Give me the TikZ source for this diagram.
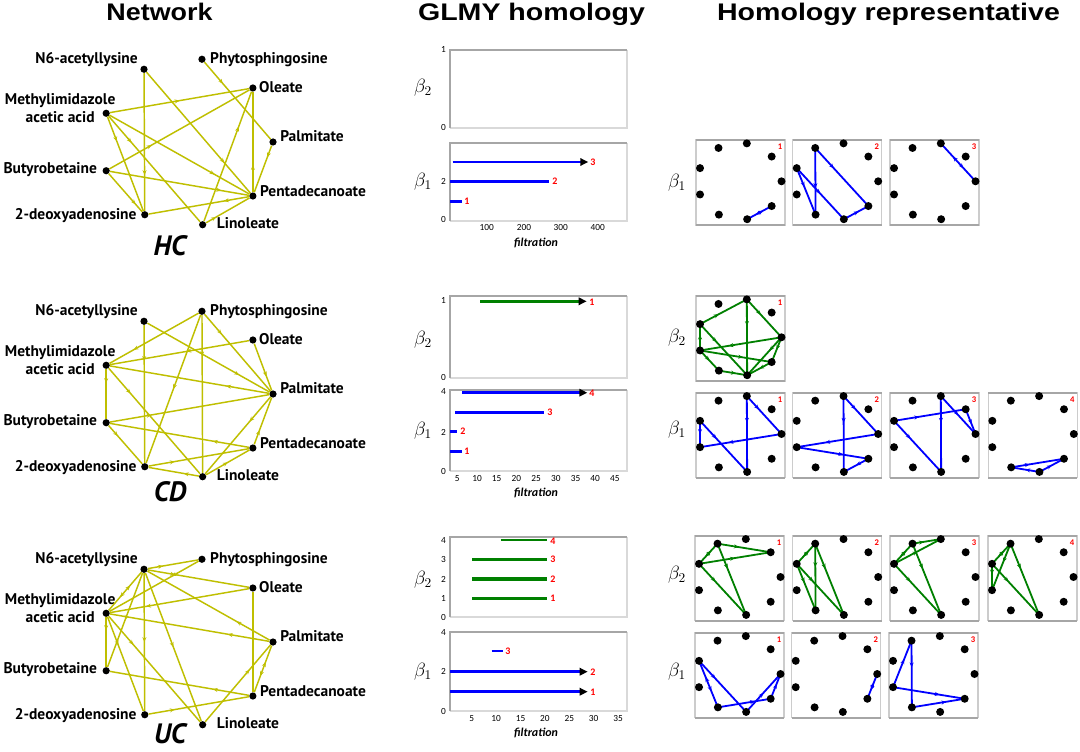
\documentclass[tikz,border=0pt]{standalone}
\usepackage{fontspec}
\newfontfamily\labfont{PT Sans}
\newfontfamily\ttlfont{Liberation Sans}
\newfontfamily\tkfont{Carlito}
\usetikzlibrary{arrows.meta,decorations.markings,calc}
\pgfdeclarelayer{bg}
\pgfdeclarelayer{edges}
\pgfsetlayers{bg,edges,main}
\definecolor{netc}{RGB}{191,191,0}
\definecolor{hgreen}{RGB}{0,128,0}
\definecolor{hblue}{RGB}{0,0,255}
\definecolor{hred}{RGB}{255,0,0}
\tikzset{
 dot/.style={circle,fill=black,inner sep=0pt,minimum size=5.4pt},
 bdot/.style={circle,fill=black,inner sep=0pt,minimum size=6pt},
 lab/.style={font=\labfont\bfseries\fontsize{11.6}{13}\selectfont,inner sep=0pt,text height=8.1pt,text depth=0pt},
 labm/.style={font=\labfont\bfseries\fontsize{11.6}{13.5}\selectfont,inner sep=0pt,align=center},
 ntitle/.style={font=\labfont\bfseries\itshape\fontsize{21}{24}\selectfont,inner sep=0pt},
 ctitle/.style={font=\ttlfont\bfseries\fontsize{18}{20}\selectfont,inner sep=0pt,anchor=base},
 ma/.style={postaction={decorate},decoration={markings,mark=at position #1 with {\arrow{Stealth[length=3.6pt,width=3pt]}}}},
 ma/.default=0.5,
 mab/.style={postaction={decorate},decoration={markings,mark=at position 0.35 with {\arrowreversed{Stealth[length=3.6pt,width=3pt]}},mark=at position 0.65 with {\arrow{Stealth[length=3.6pt,width=3pt]}}}},
 nedge/.style={netc,line width=1.1pt},
 gedge/.style={hgreen,line width=1.35pt},
 bedge/.style={hblue,line width=1.35pt},
 beta/.style={font=\fontsize{14}{16}\selectfont,inner sep=0pt},
 tk/.style={font=\tkfont\fontsize{7}{8}\selectfont,inner sep=0pt},
 filt/.style={font=\tkfont\bfseries\itshape\fontsize{9}{10}\selectfont,inner sep=0pt},
 num/.style={font=\tkfont\bfseries\fontsize{7.5}{8}\selectfont,text=hred,inner sep=0pt,anchor=west},
 bnum/.style={font=\tkfont\bfseries\fontsize{6.5}{7}\selectfont,text=hred,inner sep=0pt},
 bbar/.style={hblue,line width=2.2pt},
 gbar/.style={hgreen,line width=2.2pt},
 tip/.style={-{Triangle[black,length=6pt,width=5.5pt]}},
 spdark/.style={gray!70,line width=1.1pt},
 splight/.style={gray!30,line width=1pt}
}
% the nine positions of the nonagon: name / cos / sin
\def\ninelist{P0/1/0,Ol/0.766/0.643,Ph/0.174/0.985,N6/-0.5/0.866,Me/-0.94/0.342,Bu/-0.94/-0.342,De/-0.491/-0.866,Li/0.182/-0.985,Pe/0.766/-0.643}
\newcommand\BE[3]{\draw[#1] (#2.center) -- (#3.center);}
\newcommand\netw[4]{%
 \foreach \n/\c/\s in \ninelist
   \node[dot] (#1\n) at ({187+86*\c},{#2-84*\s}) {};
 \node[lab,anchor=east] (#1tN6) at ($(#1N6)+(-6,-11)$) {N6-acetyllysine};
 \node[lab,anchor=west] (#1tPh) at ($(#1Ph)+(8,-1)$) {Phytosphingosine};
 \node[lab,anchor=west] (#1tOl) at ($(#1Ol)+(6,-1)$) {Oleate};
 \node[labm] (#1tMe) at ($(#1Me)+(-46,-5)$) {Methylimidazole\\acetic acid};
 \node[lab,anchor=west] (#1tP0) at ($(#1P0)+(7,-6)$) {Palmitate};
 \node[lab,anchor=east] (#1tBu) at ($(#1Bu)+(-9,-3)$) {Butyrobetaine};
 \node[lab,anchor=west] (#1tPe) at ($(#1Pe)+(7,-5)$) {Pentadecanoate};
 \node[lab,anchor=east] (#1tDe) at ($(#1De)+(-8,-1)$) {2-deoxyadenosine};
 \node[lab,anchor=west] (#1tLi) at ($(#1Li)+(14,-2)$) {Linoleate};
 \node[ntitle] (#1tt) at (170,#4) {#3};
}
\newcommand\rbox[4]{%
 \begin{pgfonlayer}{bg}
 \draw[gray!40,line width=1pt] (#2,#3) rectangle ++(89,85);
 \draw[gray!70,line width=1.3pt] (#2,#3) -- ++(89,0) (#2,#3+85) -- ++(89,0);
 \end{pgfonlayer}
 \foreach \n/\c/\s in \ninelist
   \node[bdot] (#1\n) at ({#2+43.5+42*\c},{#3+41.3-38.5*\s}) {};
 \node[bnum] (#1num) at (#2+84,#3+7) {#4};
}
\newcommand\panel[5]{%
 \draw[splight] (#2,#5) -- (#4,#5) -- (#4,#3);
 \draw[spdark] (#2,#5) -- (#2,#3) -- (#4,#3);
}
\begin{document}
\begin{tikzpicture}[x=0.75pt,y=-0.75pt]
\useasboundingbox (0,0) rectangle (1080,752);
\begin{pgfonlayer}{bg}
\fill[white] (0,0) rectangle (1080,752);
\end{pgfonlayer}
% titles
\node[ctitle,xscale=1.12] (T1) at (159.5,21) {Network};
\node[ctitle,xscale=1.19] (T2) at (531.5,21) {GLMY homology};
\node[ctitle,xscale=1.19] (T3) at (888.5,21) {Homology representative};

% ---------- networks ----------
\netw{h}{142}{HC}{246}
\netw{c}{394}{CD}{492}
\netw{u}{642}{UC}{734}

% HC edges
\draw[nedge,ma=0.28] (hPh) -- (hP0);
\draw[nedge,ma=0.74] (hN6) -- (hDe);
\draw[nedge,ma=0.75] (hN6) -- (hPe);
\draw[nedge,ma=0.5] (hMe) -- (hOl);
\draw[nedge,ma=0.26] (hMe) -- (hDe);
\draw[nedge,ma=0.25] (hMe) -- (hLi);
\draw[nedge,ma=0.75] (hMe) -- (hPe);
\draw[nedge,ma=0.3] (hBu) -- (hOl);
\draw[nedge,ma=0.8] (hBu) -- (hPe);
\draw[nedge,ma=0.8] (hBu) -- (hDe);
\draw[nedge,ma=0.27] (hPe) -- (hOl);
\draw[nedge,ma=0.73] (hLi) -- (hOl);
\draw[nedge,ma=0.25] (hP0) -- (hPe);
\draw[nedge,ma=0.25] (hPe) -- (hDe);
\draw[nedge,ma=0.23] (hLi) -- (hPe);

% CD edges
\draw[nedge,ma=0.26] (cN6) -- (cDe);
\draw[nedge,ma=0.75] (cN6) -- (cP0);
\draw[nedge,ma=0.73] (cPh) -- (cMe);
\draw[nedge,ma=0.5] (cPh) -- (cDe);
\draw[nedge,ma=0.26] (cPh) -- (cLi);
\draw[nedge,ma=0.26] (cPh) -- (cP0);
\draw[nedge,ma=0.45] (cOl) -- (cMe);
\draw[nedge,ma=0.7] (cOl) -- (cP0);
\draw[nedge,ma=0.27] (cP0) -- (cMe);
\draw[nedge,ma=0.28] (cMe) -- (cBu);
\draw[nedge,ma=0.24] (cMe) -- (cLi);
\draw[nedge,ma=0.26] (cBu) -- (cP0);
\draw[nedge,ma=0.26] (cPe) -- (cBu);
\draw[nedge,ma=0.27] (cBu) -- (cDe);
\draw[nedge,ma=0.32] (cP0) -- (cLi);
\draw[nedge,ma=0.3] (cPe) -- (cP0);
\draw[nedge,ma=0.26] (cDe) -- (cPe);
\draw[nedge,ma=0.3] (cLi) -- (cDe);
\draw[nedge,ma=0.5] (cLi) -- (cPe);

% UC edges
\draw[nedge,ma=0.3] (uN6) -- (uPh);
\draw[nedge,ma=0.3] (uPh) -- (uMe);
\draw[nedge,ma=0.27] (uN6) -- (uOl);
\draw[nedge,mab] (uN6) -- (uMe);
\draw[nedge,ma=0.5] (uN6) -- (uBu);
\draw[nedge,ma=0.5] (uN6) -- (uDe);
\draw[nedge,ma=0.5] (uN6) -- (uLi);
\draw[nedge,ma=0.27] (uP0) -- (uN6);
\draw[nedge,ma=0.74] (uOl) -- (uMe);
\draw[nedge,ma=0.26] (uP0) -- (uMe);
\draw[nedge,ma=0.26] (uMe) -- (uBu);
\draw[nedge,ma=0.3] (uMe) -- (uDe);
\draw[nedge,ma=0.27] (uMe) -- (uLi);
\draw[nedge,ma=0.26] (uPe) -- (uBu);
\draw[nedge] (uOl) -- (uPe);
\draw[nedge,mab] (uP0) -- (uPe);
\draw[nedge,ma=0.68] (uLi) -- (uP0);
\draw[nedge,ma=0.26] (uDe) -- (uPe);

% ---------- GLMY panels ----------
\node[beta] (hb2) at (423,88) {$\beta_2$};
\node[beta] (hb1) at (423,182) {$\beta_1$};
\node[beta] (cb2) at (423,340) {$\beta_2$};
\node[beta] (cb1) at (423,431) {$\beta_1$};
\node[beta] (ub2) at (423,580) {$\beta_2$};
\node[beta] (ub1) at (423,672) {$\beta_1$};

% HC
\panel{p1}{450}{50}{627}{128}
\panel{p2}{450}{143}{627}{221}
\node[tk,anchor=east] (y11) at (446,50) {1};
\node[tk,anchor=east] (y10) at (446,128) {0};
\node[tk,anchor=east] (y22) at (446,181) {2};
\node[tk,anchor=east] (y20) at (446,220) {0};
\foreach \v/\x in {100/486.7,200/524,300/560.7,400/597.7}
  \node[tk] (hx\v) at (\x,228) {\v};
\node[filt] (hf) at (536,243) {filtration};
\draw[bbar] (450,201.3) -- (461.7,201.3);
\node[num] (hn1) at (464,201.3) {1};
\draw[bbar] (450,181.7) -- (549.3,181.7);
\node[num] (hn2) at (552,181.7) {2};
\draw[bbar,tip] (452.7,162) -- (588.3,162);
\node[num] (hn3) at (590,162) {3};

% CD
\panel{p3}{450}{296}{627}{378}
\panel{p4}{450}{390}{627}{471}
\node[tk,anchor=east] (cy21) at (446,300) {1};
\node[tk,anchor=east] (cy20) at (446,378) {0};
\node[tk,anchor=east] (cy14) at (446,392) {4};
\node[tk,anchor=east] (cy12) at (446,432) {2};
\node[tk,anchor=east] (cy10) at (446,471) {0};
\foreach \v [count=\k from 0] in {5,10,15,20,25,30,35,40,45}
  \node[tk] (cx\v) at (457.3+19.7*\k,478.3) {\v};
\node[filt] (cf) at (536,493) {filtration};
\draw[gbar,tip] (480,301.3) -- (586.7,301.3);
\node[num] (cn21) at (589,302) {1};
\draw[bbar,tip] (462.3,392.7) -- (587.3,392.7);
\node[num] (cn4) at (589,393.5) {4};
\draw[bbar] (455,412.3) -- (544.3,412.3);
\node[num] (cn3) at (547,412.3) {3};
\draw[bbar] (450,431.7) -- (457,431.7);
\node[num] (cn2) at (460,431.7) {2};
\draw[bbar] (450,451.7) -- (462,451.7);
\node[num] (cn1) at (464,451.7) {1};

% UC
\panel{p5}{450}{537}{627}{617}
\panel{p6}{450}{632}{627}{711}
\foreach \v/\y in {4/540,3/559,2/579,1/598,0/617}
  \node[tk,anchor=east] (uy2\v) at (446,\y) {\v};
\foreach \v/\y in {4/632,2/671,0/711}
  \node[tk,anchor=east] (uy1\v) at (446,\y) {\v};
\foreach \v [count=\k from 0] in {5,10,15,20,25,30,35}
  \node[tk] (ux\v) at (471.7+24.4*\k,718.3) {\v};
\node[filt] (uf) at (536,733) {filtration};
\draw[gbar,line width=1.8pt] (500.7,540) -- (547.3,540);
\node[num] (un24) at (550,541) {4};
\draw[gbar,line width=1.8pt] (472.3,559.3) -- (547.3,559.3);
\node[num] (un23) at (550,559.3) {3};
\draw[gbar,line width=2.4pt] (472.3,579) -- (547.3,579);
\node[num] (un22) at (550,579) {2};
\draw[gbar,line width=1.8pt] (472.3,598.3) -- (547.3,598.3);
\node[num] (un21) at (550,598.3) {1};
\draw[bbar] (491.7,651) -- (502.7,651);
\node[num] (un13) at (505,651) {3};
\draw[bbar,tip] (450,671.7) -- (587.7,671.7);
\node[num] (un12) at (590,672) {2};
\draw[bbar,tip] (450,691.7) -- (587.7,691.7);
\node[num] (un11) at (590,692) {1};

% ---------- homology representatives ----------
\node[beta] (rh1) at (677,183) {$\beta_1$};
\node[beta] (rc2) at (677,338) {$\beta_2$};
\node[beta] (rc1) at (677,430) {$\beta_1$};
\node[beta] (ru2) at (677,575) {$\beta_2$};
\node[beta] (ru1) at (677,672) {$\beta_1$};

\rbox{hxa}{696}{140}{1}
\rbox{hxb}{792.7}{140}{2}
\rbox{hxc}{890}{140}{3}
\rbox{cya}{696}{296}{1}
\rbox{cza}{696}{392.7}{1}
\rbox{czb}{792.7}{392.7}{2}
\rbox{czc}{890}{392.7}{3}
\rbox{czd}{988.3}{392.7}{4}
\rbox{uya}{695}{535.7}{1}
\rbox{uyb}{792.7}{535.7}{2}
\rbox{uyc}{890}{535.7}{3}
\rbox{uyd}{988}{535.7}{4}
\rbox{uza}{695}{632.7}{1}
\rbox{uzb}{791.7}{632.7}{2}
\rbox{uzc}{889}{632.7}{3}

\begin{pgfonlayer}{edges}
\BE{bedge,mab}{hxaLi}{hxaPe}
\BE{bedge,ma=0.6}{hxbN6}{hxbDe}
\BE{bedge,ma=0.35}{hxbN6}{hxbPe}
\BE{bedge,ma=0.4}{hxbMe}{hxbDe}
\BE{bedge,ma=0.5}{hxbMe}{hxbLi}
\BE{bedge,ma=0.6}{hxbLi}{hxbPe}
\BE{bedge,mab}{hxcPh}{hxcP0}

\BE{gedge,ma=0.4}{cyaMe}{cyaPh}
\BE{gedge,ma=0.35}{cyaPh}{cyaLi}
\BE{gedge,ma=0.4}{cyaPh}{cyaP0}
\BE{gedge,ma=0.6}{cyaBu}{cyaMe}
\BE{gedge,ma=0.35}{cyaMe}{cyaLi}
\BE{gedge,ma=0.65}{cyaP0}{cyaBu}
\BE{gedge,ma=0.6}{cyaBu}{cyaPe}
\BE{gedge,ma=0.5}{cyaBu}{cyaDe}
\BE{gedge,ma=0.6}{cyaDe}{cyaLi}
\BE{gedge,ma=0.35}{cyaP0}{cyaLi}
\BE{gedge,ma=0.5}{cyaPe}{cyaLi}
\BE{gedge,ma=0.5}{cyaP0}{cyaPe}

\BE{bedge,ma=0.35}{czaPh}{czaLi}
\BE{bedge,ma=0.35}{czaPh}{czaP0}
\BE{bedge,ma=0.5}{czaMe}{czaBu}
\BE{bedge,ma=0.35}{czaMe}{czaLi}
\BE{bedge,ma=0.65}{czaP0}{czaBu}
\BE{bedge,ma=0.35}{czbPh}{czbLi}
\BE{bedge,ma=0.35}{czbPh}{czbP0}
\BE{bedge,ma=0.65}{czbP0}{czbBu}
\BE{bedge,ma=0.65}{czbBu}{czbPe}
\BE{bedge,ma=0.5}{czbPe}{czbLi}
\BE{bedge,ma=0.35}{czcPh}{czcLi}
\BE{bedge,ma=0.5}{czcPh}{czcP0}
\BE{bedge,ma=0.35}{czcMe}{czcOl}
\BE{bedge,ma=0.6}{czcOl}{czcP0}
\BE{bedge,ma=0.35}{czcMe}{czcLi}
\BE{bedge,ma=0.35}{czdDe}{czdPe}
\BE{bedge,ma=0.5}{czdLi}{czdDe}
\BE{bedge,ma=0.5}{czdLi}{czdPe}

\foreach \b in {uya,uyb,uyc,uyd}{
  \BE{gedge,mab}{\b N6}{\b Me}
  \BE{gedge,ma=0.35}{\b N6}{\b Li}
  \BE{gedge,ma=0.35}{\b Me}{\b Li}
}
\BE{gedge,ma=0.4}{uyaN6}{uyaOl}
\BE{gedge,ma=0.5}{uyaMe}{uyaOl}
\BE{gedge,ma=0.35}{uybN6}{uybDe}
\BE{gedge,ma=0.4}{uybMe}{uybDe}
\BE{gedge,ma=0.4}{uycN6}{uycPh}
\BE{gedge,ma=0.5}{uycMe}{uycPh}
\BE{gedge,ma=0.4}{uydN6}{uydBu}
\BE{gedge,ma=0.4}{uydMe}{uydBu}

\BE{bedge,mab}{uzaMe}{uzaDe}
\BE{bedge,ma=0.35}{uzaMe}{uzaLi}
\BE{bedge,ma=0.7}{uzaDe}{uzaPe}
\BE{bedge,ma=0.5}{uzaLi}{uzaP0}
\BE{bedge,ma=0.6}{uzaPe}{uzaP0}
\BE{bedge,mab}{uzbP0}{uzbPe}
\BE{bedge,ma=0.4}{uzcN6}{uzcDe}
\BE{bedge,ma=0.6}{uzcBu}{uzcN6}
\BE{bedge,ma=0.65}{uzcBu}{uzcPe}
\BE{bedge,ma=0.65}{uzcDe}{uzcPe}
\end{pgfonlayer}
\end{tikzpicture}
\end{document}
